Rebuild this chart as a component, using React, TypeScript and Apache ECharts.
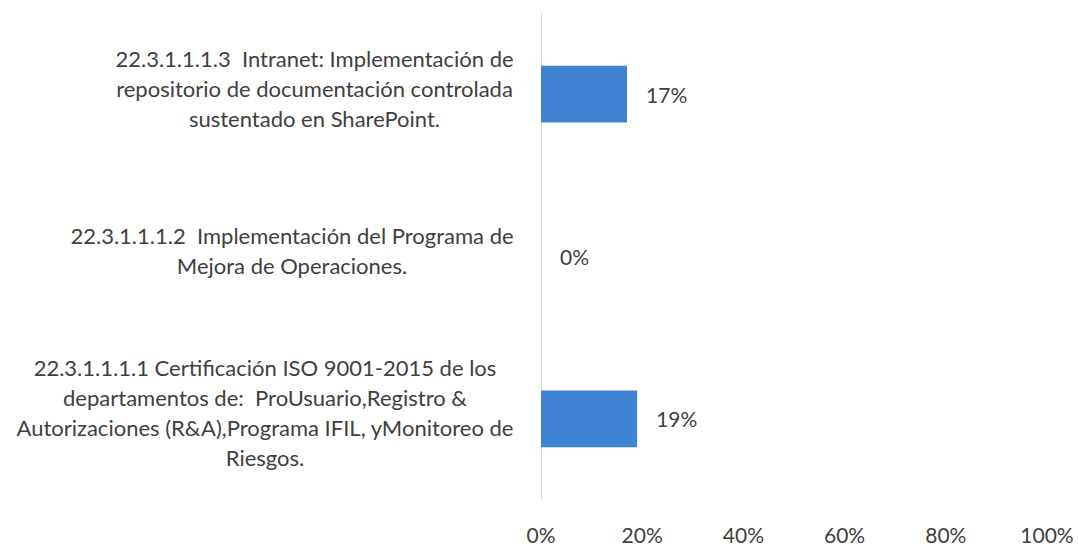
import React, { useEffect, useRef } from "react";
import * as echarts from "echarts";

const categories: string[] = [
  "22.3.1.1.1.1 Certificación ISO 9001-2015 de los\ndepartamentos de:  ProUsuario,Registro &\nAutorizaciones (R&A),Programa IFIL, yMonitoreo de\nRiesgos.",
  "22.3.1.1.1.2  Implementación del Programa de\nMejora de Operaciones.",
  "22.3.1.1.1.3  Intranet: Implementación de\nrepositorio de documentación controlada\nsustentado en SharePoint.",
];
const values: number[] = [19, 0, 17];
const tickLabels: string[] = ["0%", "20%", "40%", "60%", "80%", "100%"];

const FONT = "Lato";
const CAT_SIZE = 22;
const NUM_SIZE = 21;
const TEXT_COLOR = "#404040";

function measure(text: string, size: number): number {
  const c = document.createElement("canvas");
  const ctx = c.getContext("2d");
  if (!ctx) return text.length * size * 0.5;
  ctx.font = `${size}px ${FONT}`;
  return ctx.measureText(text).width;
}

export default function App() {
  const ref = useRef<HTMLDivElement>(null);
  useEffect(() => {
    document.body.style.margin = "0";
    if (!ref.current) return;
    const chart = echarts.init(ref.current, undefined, { renderer: "svg" });

    const rich: Record<string, any> = {};
    const widths = categories.map((c) =>
      Math.ceil(Math.max(...c.split("\n").map((l) => measure(l, CAT_SIZE)))) + 2
    );
    categories.forEach((_, i) => {
      rich["w" + i] = {
        width: widths[i],
        align: "center",
        fontFamily: FONT,
        fontSize: CAT_SIZE,
        lineHeight: 30,
        color: TEXT_COLOR,
      };
    });

    chart.setOption({
      animation: false,
      backgroundColor: "#ffffff",
      grid: { left: 541, right: 31, top: 13, bottom: 48, containLabel: false },
      xAxis: {
        type: "value",
        min: 0,
        max: 100,
        interval: 20,
        splitLine: { show: false },
        axisLine: { show: false },
        axisTick: { show: false },
        axisLabel: {
          margin: 24,
          fontFamily: FONT,
          fontSize: NUM_SIZE,
          color: TEXT_COLOR,
          formatter: (v: number) => tickLabels[Math.round(v / 20)] ?? "",
        },
      },
      yAxis: {
        type: "category",
        data: categories,
        axisLine: { show: true, lineStyle: { color: "#d9d9d9", width: 1 } },
        axisTick: { show: false },
        splitLine: { show: false },
        axisLabel: {
          margin: 26,
          align: "right",
          padding: [0, 0, 12, 0],
          formatter: (v: string) => {
            const i = categories.indexOf(v);
            return v
              .split("\n")
              .map((l) => `{w${i}|${l}}`)
              .join("\n");
          },
          rich,
        },
      },
      series: [
        {
          type: "bar",
          data: values,
          barCategoryGap: "65%",
          itemStyle: { color: "#3f84d2" },
          label: {
            show: true,
            position: "right",
            distance: 19,
            fontFamily: FONT,
            fontSize: NUM_SIZE,
            color: TEXT_COLOR,
            formatter: (p: any) => `${p.value}%`,
          },
        },
      ],
    });
    return () => chart.dispose();
  }, []);
  return (
    <div
      ref={ref}
      style={{ position: "fixed", left: 0, top: 0, width: 1078, height: 548 }}
    />
  );
}
